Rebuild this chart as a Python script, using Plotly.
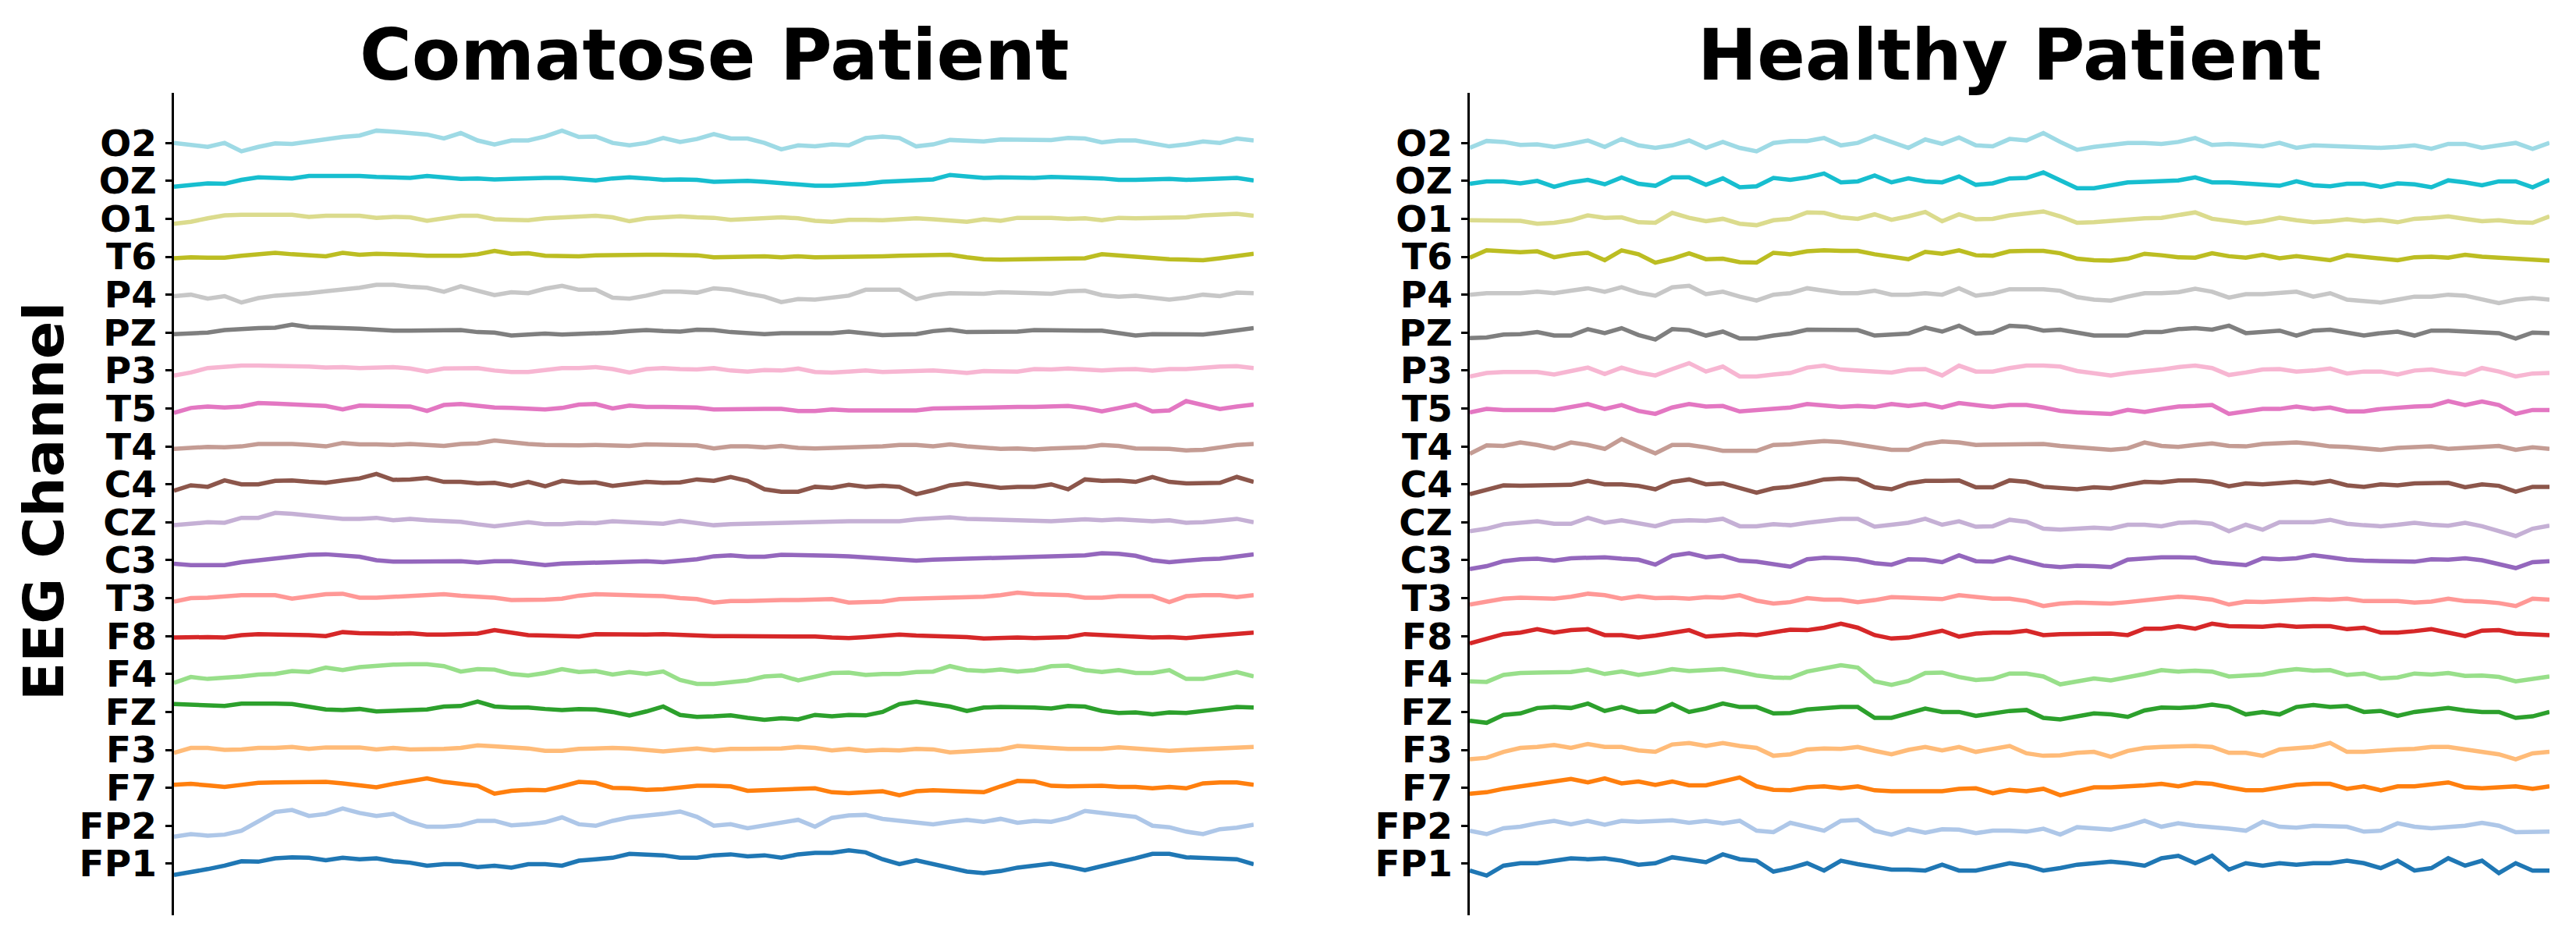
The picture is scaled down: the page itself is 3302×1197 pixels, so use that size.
import numpy as np
import plotly.graph_objects as go

# Channels, bottom to top
CHANNELS = ["FP1", "FP2", "F7", "F3", "FZ", "F4", "F8", "T3", "C3", "CZ",
            "C4", "T4", "T5", "P3", "PZ", "P4", "T6", "O1", "OZ", "O2"]
COLORS = ["#1f77b4", "#aec7e8", "#ff7f0e", "#ffbb78", "#2ca02c", "#98df8a",
          "#d62728", "#ff9896", "#9467bd", "#c5b0d5", "#8c564b", "#c49c94",
          "#e377c2", "#f7b6d2", "#7f7f7f", "#c7c7c7", "#bcbd22", "#dbdb8d",
          "#17becf", "#9edae5"]
CHANNEL_SPACING = 77.0   # vertical offset between channels (uV)
DURATION_S = 10.0

# ---- Comatose patient (uV, deviation from channel baseline) ----
COMA_O2 = [0,-5,-8,0,-17,-8,-1,-2,3,7,12,15,25,23,19,17,9,20,5,-3,5,5,13,25,12,13,0,-5,0,10,2,8,18,
           9,9,0,-13,-5,-7,-3,-5,10,13,10,-7,-3,6,5,3,7,7,5,6,10,9,1,5,5,-2,-7,-3,3,0,9,5]
COMA_OZ = [-12,-9,-5,-6,2,7,6,5,10,10,11,10,8,7,6,10,7,4,5,3,4,6,6,6,4,1,5,7,5,2,3,2,-2,
           0,0,-2,-5,-7,-10,-10,-9,-6,-2,0,0,3,12,9,6,7,6,6,8,6,6,5,2,2,4,4,2,3,5,6,1]
COMA_O1 = [-10,-6,1,7,8,9,8,8,4,6,5,6,2,4,3,-4,1,6,6,-1,-2,-3,1,2,5,6,3,-5,1,4,5,3,2,
           -2,-1,0,3,1,-4,-6,-2,-2,-3,-1,1,-1,-4,-6,-1,-4,2,3,2,0,1,-3,2,1,1,1,3,7,8,10,6]
COMA_T6 = [-3,-1,-2,-2,2,5,8,5,3,1,8,4,6,6,4,2,2,2,5,12,6,7,2,1,1,3,4,4,4,4,4,3,-1,
           0,2,1,-1,1,-1,-1,0,0,1,2,2,3,4,-1,-5,-6,-5,-5,-5,-4,-3,5,2,-1,-3,-5,-6,-7,-3,1,6]
COMA_P4 = [-3,0,-8,-3,-16,-7,-2,0,3,7,10,14,20,20,16,14,6,17,8,-1,5,3,12,18,10,10,-6,-8,-2,6,6,4,13,
           10,2,-4,-15,-9,-10,-6,-2,10,10,10,-9,-1,3,3,2,5,5,3,2,7,8,-1,-4,-2,-6,-10,-6,0,-3,4,3]
COMA_PZ = [-3,-1,0,5,8,9,10,16,11,9,9,8,5,4,4,4,4,5,1,0,-6,-5,-2,-4,-3,0,0,3,5,3,2,6,5,
           1,-1,-3,-1,-1,0,-1,2,-1,-5,-4,-3,3,6,1,1,1,2,5,4,4,4,4,0,-6,-3,-3,-3,-4,0,4,9]
COMA_P3 = [-10,-4,5,8,10,10,10,10,8,6,7,5,7,7,4,-2,4,5,5,0,-3,-3,0,5,5,7,3,-4,3,5,3,2,5,
           0,-2,1,0,4,-3,-4,-2,0,-3,-2,0,0,-2,-5,-1,-1,-2,3,2,4,2,0,2,3,0,3,3,6,8,9,5]
COMA_T5 = [-9,1,4,2,4,11,10,8,5,5,-2,6,5,4,4,-5,7,9,5,2,1,-1,-2,1,8,9,0,6,3,3,3,2,-2,
           -1,-1,-1,-1,-5,-5,-2,-4,-4,-6,-5,-4,0,1,1,1,2,3,3,4,5,1,-6,1,8,-6,-4,15,6,-1,4,8]
COMA_T4 = [-5,-2,-1,-2,0,5,6,5,3,0,7,4,4,3,5,4,1,5,6,12,8,5,3,2,2,3,2,1,4,3,2,2,-4,
           0,0,-2,1,-3,-4,-3,-2,-2,0,3,3,0,4,0,-2,-5,-4,-6,-4,-4,-2,3,1,-4,-4,-5,-8,-7,-2,3,5]
COMA_C4 = [-13,-2,-5,8,0,0,7,8,5,3,8,12,21,9,10,13,5,5,2,3,-3,5,-4,7,3,4,-3,2,5,3,4,10,7,
           15,7,-10,-15,-15,-5,-7,-1,-5,-3,-5,-20,-12,-2,2,-3,-7,-5,-5,0,-10,10,7,8,5,15,5,2,3,3,15,5]
COMA_CZ = [-6,-4,0,-1,9,9,19,17,13,10,7,7,9,4,7,4,2,1,-4,-8,-4,0,-4,-4,-1,-2,2,1,-1,-3,3,-2,-6,
           -4,-3,-1,0,0,0,2,2,2,1,2,6,7,10,7,6,4,4,4,2,4,6,4,6,4,2,4,-1,0,4,7,0]
COMA_C3 = [-7,-10,-10,-10,-4,0,2,7,11,12,10,7,0,-3,-3,-3,-3,-2,-5,-2,-2,-6,-10,-7,-6,-6,-3,-2,-2,-4,-1,2,8,
           10,7,7,11,11,10,9,8,6,4,3,-1,1,2,3,3,4,6,7,7,8,10,14,13,9,0,-4,0,2,3,8,12]
COMA_T3 = [-7,0,1,4,6,6,6,-1,3,8,9,1,1,3,3,5,8,5,3,1,-4,-4,-3,-1,5,8,6,6,5,4,0,-2,-9,
           -6,-6,-4,-4,-4,-4,-2,-9,-8,-7,-2,-1,1,2,1,3,6,11,8,6,6,1,1,4,4,4,-8,4,6,6,2,6]
COMA_F8 = [-3,-2,-2,-3,2,4,4,4,2,0,8,6,5,5,6,3,3,4,5,12,7,2,1,1,-1,4,3,3,3,4,2,2,0,
           0,0,0,0,0,-1,-3,-4,-2,1,3,1,0,0,-2,-5,-3,-3,-4,-4,-2,4,2,-1,-3,-3,-2,-4,-1,2,5,7]
COMA_F4 = [-18,-6,-10,-8,-5,-1,0,6,4,13,8,14,17,19,20,20,16,5,10,9,0,-3,2,10,4,6,-1,4,0,5,-12,-20,-20,
           -17,-13,-5,-3,-13,-5,2,3,-2,0,0,4,5,16,8,6,9,5,8,16,17,8,4,8,2,2,8,-10,-10,-3,4,-5]
COMA_FZ = [16,15,13,12,17,18,17,16,11,5,4,6,1,3,3,5,11,12,21,11,9,9,6,4,6,5,0,-7,1,11,-6,-10,-9,
           -7,-12,-16,-13,-15,-6,-9,-6,-7,0,16,21,16,11,2,9,10,10,9,7,12,11,2,-2,-1,-5,-1,-2,1,6,10,9]
COMA_F3 = [-6,4,4,0,1,4,4,6,2,5,5,5,1,4,1,1,2,4,9,7,6,3,-2,-2,2,4,4,3,-1,-3,0,3,-1,
           2,2,2,3,6,4,-1,2,-2,0,-1,2,1,-5,-3,0,1,8,7,4,2,2,2,5,3,2,-2,0,1,2,4,6]
COMA_F7 = [6,8,5,2,6,10,11,12,11,12,9,5,1,8,13,19,12,7,4,-12,-6,-4,-5,3,12,10,0,-1,-4,-3,0,4,4,
           3,-6,-5,-4,-4,-1,-9,-11,-9,-7,-15,-7,-5,-6,-9,-9,3,14,13,4,3,4,4,2,2,-1,2,-1,9,11,11,6]
COMA_FP2 = [-22,-17,-20,-18,-10,8,28,32,20,24,35,26,20,24,8,-2,-2,1,10,10,1,3,7,17,3,0,10,17,20,24,29,18,0,
            3,-5,1,8,12,-2,16,21,22,14,10,6,3,8,12,8,14,6,10,8,16,30,26,20,18,0,-3,-12,-17,-7,-4,2]
COMA_FP1 = [-23,-18,-11,-4,5,4,11,13,12,7,12,9,11,5,2,-4,-1,-1,-7,-4,-8,-1,-1,-4,6,9,12,20,18,17,12,12,17,
            19,15,17,12,19,22,22,27,23,9,-1,7,-1,-8,-16,-19,-15,-8,-3,0,-6,-13,-5,2,11,20,20,13,12,12,9,-1]

# ---- Healthy patient ----
HEAL_O2 = [-10,4,2,-4,-3,-8,-2,5,-8,8,-5,-10,-5,5,-10,2,-10,-17,0,4,4,10,-5,0,14,3,-10,7,-2,11,-5,-7,8,
           5,20,2,-14,-8,-5,0,0,-2,2,10,-4,-2,-4,-7,0,-10,-5,-6,-8,-7,-10,-8,-5,-12,-2,-2,-10,-5,0,-12,0]
HEAL_OZ = [-6,-1,-1,-5,0,-12,-3,2,-7,7,-6,-10,7,7,-8,5,-13,-11,6,2,7,15,-3,-1,11,-3,5,-1,-3,9,-8,-5,5,
           6,17,2,-15,-15,-9,-3,-2,-1,1,7,-3,-3,-6,-8,-10,-1,-9,-11,-6,-6,-12,-5,-7,-13,1,-3,-9,-1,-1,-13,2]
HEAL_O1 = [-3,-3,-5,-4,-10,-8,-3,7,2,3,-7,-8,12,2,-5,0,-10,-13,-3,0,13,12,3,0,9,-2,5,14,-5,9,-1,0,7,
           10,15,5,-8,-7,-4,0,1,2,8,13,0,-5,-9,-5,2,-3,-7,-5,-1,-5,-2,-7,0,2,5,0,-5,-3,-7,-8,5]
HEAL_T6 = [-2,13,11,9,11,-1,5,8,-7,13,5,-12,-4,7,-5,-4,-11,-12,8,5,11,13,12,12,5,0,-5,10,6,13,3,2,11,
           12,12,7,-4,-7,-8,-4,6,3,-1,-2,7,1,-2,4,-3,1,-2,-7,3,0,-2,-7,-1,0,-2,4,0,-2,-4,-7,-8]
HEAL_P4 = [0,3,3,3,6,3,8,13,6,15,4,-2,15,18,1,6,-4,-12,0,3,13,8,3,3,8,0,0,3,0,13,-2,2,11,
           11,11,8,-5,-10,-12,-4,3,3,5,12,6,-6,1,1,3,6,-4,3,-10,-12,-16,-10,-4,-4,0,-2,-10,-17,-10,-7,-10]
HEAL_PZ = [-11,-10,-4,-3,1,-6,-6,7,-1,9,-5,-14,7,5,-6,2,-12,-12,-6,-2,6,6,4,5,-6,-4,-2,10,2,14,-2,0,14,
           12,4,6,0,-6,-6,-6,1,1,7,9,6,14,-1,2,4,-6,4,6,0,-6,-1,2,-6,4,4,2,2,-1,-12,0,-1]
HEAL_P3 = [-12,-5,-3,-2,-3,-8,-2,6,-7,6,-4,-10,3,15,-2,8,-12,-12,-8,-5,6,10,2,0,0,-4,2,3,-10,10,-2,-2,5,
           10,10,8,-1,-5,-10,-5,-2,2,7,10,5,-9,-4,2,3,-2,0,4,-6,-2,-2,-8,0,2,-4,-8,5,-2,-12,-6,-5]
HEAL_T5 = [-8,-1,-3,-2,-3,-3,2,9,-1,7,-5,-11,2,9,4,5,-6,-3,-1,2,9,7,3,5,3,9,5,9,2,11,7,3,7,
           7,2,-5,-8,-10,-11,-3,-7,-1,4,5,7,-11,-6,-1,-1,4,-1,2,-6,-6,-1,2,4,5,15,7,14,7,-11,-3,-3]
HEAL_T4 = [-15,2,1,8,3,-4,8,3,-5,15,0,-14,3,3,-2,-9,-9,-9,3,4,8,11,9,4,-3,-7,-7,5,10,8,3,3,5,
           5,5,1,-2,-5,-7,-4,8,1,-1,3,6,1,0,5,7,8,5,0,-1,-3,-7,-3,-1,0,-5,-3,-1,1,-7,-2,-5]
HEAL_C4 = [-20,-10,-2,-3,-2,-2,-1,7,0,0,-3,-10,5,10,0,2,-8,-17,-8,-5,2,10,12,10,-6,-10,2,7,7,8,-6,-6,8,
           5,-5,-8,-10,-6,-8,-1,5,4,8,8,5,-4,2,0,3,5,2,7,-2,-5,0,-2,2,2,3,-6,0,-3,-15,-5,-5]
HEAL_CZ = [-18,-13,-4,0,2,-3,-3,9,-1,4,-3,-8,2,4,3,7,-8,-8,-4,-6,-1,4,7,7,-9,-5,-1,7,-5,2,-9,-8,5,
           1,-13,-15,-13,-11,-13,-5,-5,-8,-1,0,-3,-18,-5,-15,0,0,0,5,-3,-6,-8,-5,-1,-5,-7,-1,-8,-18,-28,-13,-7]
HEAL_C3 = [-18,-12,-2,2,3,-1,4,6,6,3,1,-9,9,14,6,9,-1,-3,-9,-13,2,5,4,1,-6,-9,2,1,-4,10,-2,-3,6,
           -2,-11,-14,-11,-12,-14,1,4,6,6,5,-4,-6,-10,4,2,4,10,6,1,-1,-1,-3,-3,2,1,4,0,-8,-16,-4,-2]
HEAL_T3 = [-13,-6,-1,1,-1,-1,3,9,6,-1,4,0,1,-1,2,1,6,-5,-11,-8,0,-3,-3,-8,-4,2,1,-1,-2,6,3,-1,-1,
           -6,-16,-11,-9,-9,-11,-8,-4,-1,3,1,-3,-13,-7,-8,-6,-2,-2,-3,-1,-6,-5,-6,-9,-7,-1,-6,-7,-10,-16,-1,-3]
HEAL_F8 = [-15,-5,4,7,14,7,12,14,2,2,-3,1,7,12,-1,2,4,2,7,13,12,17,25,17,2,-5,-3,3,11,-1,5,7,7,
           11,2,4,5,4,5,2,15,15,20,15,25,20,19,19,22,19,20,20,14,17,7,7,10,14,7,0,11,12,5,4,2]
HEAL_F4 = [-15,-16,-2,2,3,3,4,9,0,5,-2,3,10,6,8,10,4,-3,-7,-8,5,12,18,13,-15,-22,-14,2,3,-6,-12,-10,1,
           1,-5,-21,-15,-9,-13,-7,0,8,5,7,5,-5,-2,-1,6,10,7,8,-2,1,-9,-7,1,-1,2,-4,-3,-6,-15,-11,-5]
HEAL_FZ = [-18,-22,-6,-3,8,10,8,17,2,10,0,1,16,0,7,17,10,10,-3,-2,5,8,10,10,-12,-12,-2,7,0,0,-8,-2,2,
           4,-12,-15,-10,-3,-5,-10,3,9,8,10,15,10,-5,0,-5,10,14,10,12,0,2,-8,0,4,8,3,0,0,-12,-9,0]
HEAL_F3 = [-19,-16,-4,4,6,10,4,12,6,6,-1,-4,11,14,8,14,8,4,-12,-9,1,3,2,6,-2,-9,0,6,-1,6,-4,1,8,
           -7,-12,-11,-6,-4,-14,-2,4,6,8,8,6,-6,-6,-12,1,3,6,14,-4,-4,-1,1,2,6,6,1,-4,-9,-19,-7,-4]
HEAL_F7 = [-12,-9,-2,3,10,15,18,11,19,9,13,6,13,5,5,13,21,3,-4,-5,1,3,-1,3,-5,-7,-7,-5,-7,-2,-1,-11,-4,
           -7,-2,-15,-7,1,1,2,5,8,3,10,8,1,-5,-5,1,6,8,8,-2,3,-5,3,3,8,11,1,-1,1,3,-2,3]
HEAL_FP2 = [-10,-17,-5,-2,5,10,3,10,2,10,8,10,11,6,10,5,10,-10,-13,6,-2,-10,10,12,-10,-18,-7,-14,-7,-8,-15,-10,-10,
            -12,-6,-18,-3,-5,-8,0,10,-2,5,0,-2,-6,-10,8,-2,-4,0,-1,-2,-12,-10,5,-2,-5,-2,0,6,0,-13,-12,-12]
HEAL_FP1 = [-14,-24,-4,1,1,6,11,9,11,6,-2,1,13,8,3,19,9,6,-16,-9,1,-14,6,-1,-6,-12,-12,-14,-2,-14,-14,-6,1,
            -4,-14,-9,-2,1,4,1,-4,11,16,1,16,-12,1,-4,1,-2,1,1,6,1,-9,6,-14,-9,11,-4,6,-19,1,-14,-14]

COMA = {"FP1": COMA_FP1, "FP2": COMA_FP2, "F7": COMA_F7, "F3": COMA_F3, "FZ": COMA_FZ,
        "F4": COMA_F4, "F8": COMA_F8, "T3": COMA_T3, "C3": COMA_C3, "CZ": COMA_CZ,
        "C4": COMA_C4, "T4": COMA_T4, "T5": COMA_T5, "P3": COMA_P3, "PZ": COMA_PZ,
        "P4": COMA_P4, "T6": COMA_T6, "O1": COMA_O1, "OZ": COMA_OZ, "O2": COMA_O2}
HEAL = {"FP1": HEAL_FP1, "FP2": HEAL_FP2, "F7": HEAL_F7, "F3": HEAL_F3, "FZ": HEAL_FZ,
        "F4": HEAL_F4, "F8": HEAL_F8, "T3": HEAL_T3, "C3": HEAL_C3, "CZ": HEAL_CZ,
        "C4": HEAL_C4, "T4": HEAL_T4, "T5": HEAL_T5, "P3": HEAL_P3, "PZ": HEAL_PZ,
        "P4": HEAL_P4, "T6": HEAL_T6, "O1": HEAL_O1, "OZ": HEAL_OZ, "O2": HEAL_O2}

W, H = 3302, 1197
FONT = "DejaVu Sans"
fig = go.Figure()

for panel, (data, xa, ya) in enumerate([(COMA, "x", "y"), (HEAL, "x2", "y2")]):
    for i, ch in enumerate(CHANNELS):
        v = np.asarray(data[ch], dtype=float)
        t = np.linspace(0, DURATION_S, len(v))
        fig.add_trace(go.Scatter(
            x=t, y=v + i * CHANNEL_SPACING, mode="lines",
            line=dict(color=COLORS[i], width=5.5),
            xaxis=xa, yaxis=ya, showlegend=False, hoverinfo="skip"))

offsets = [i * CHANNEL_SPACING for i in range(len(CHANNELS))]
yrange = [-1.36 * CHANNEL_SPACING, 20.32 * CHANNEL_SPACING]
ydom = [1 - 1173 / H, 1 - 119 / H]
xdom1 = [223 / W, 1607 / W]
xdom2 = [1884 / W, 3268 / W]

yax = dict(range=yrange, domain=ydom, showgrid=False, zeroline=False,
           showline=True, linecolor="black", linewidth=2.5,
           ticks="outside", ticklen=8, tickwidth=2.5, tickcolor="black",
           tickvals=offsets, ticktext=CHANNELS, ticklabelstandoff=2,
           tickfont=dict(family=FONT, size=47, color="black", weight="bold"))
xax = dict(range=[0, DURATION_S], visible=False, showgrid=False, zeroline=False)

fig.update_layout(
    width=W, height=H, autosize=False,
    margin=dict(l=0, r=0, t=0, b=0),
    paper_bgcolor="white", plot_bgcolor="white",
    xaxis=dict(xax, domain=xdom1, anchor="y"),
    xaxis2=dict(xax, domain=xdom2, anchor="y2"),
    yaxis=dict(yax, anchor="x"),
    yaxis2=dict(yax, anchor="x2"),
    annotations=[
        dict(text="Comatose Patient", x=sum(xdom1) / 2, y=1 - 70 / H, xref="paper", yref="paper",
             xanchor="center", yanchor="middle", showarrow=False,
             font=dict(family=FONT, size=91, color="black", weight="bold")),
        dict(text="Healthy Patient", x=sum(xdom2) / 2, y=1 - 70 / H, xref="paper", yref="paper",
             xanchor="center", yanchor="middle", showarrow=False,
             font=dict(family=FONT, size=91, color="black", weight="bold")),
        dict(text="EEG Channel", x=56 / W, y=1 - 643 / H, xref="paper", yref="paper",
             xanchor="center", yanchor="middle", textangle=-90, showarrow=False,
             font=dict(family=FONT, size=72, color="black", weight="bold")),
    ],
)

fig.write_html("out.html", config={"displayModeBar": False},
               post_script="document.body.style.margin='0px';document.body.style.overflow='hidden';")
